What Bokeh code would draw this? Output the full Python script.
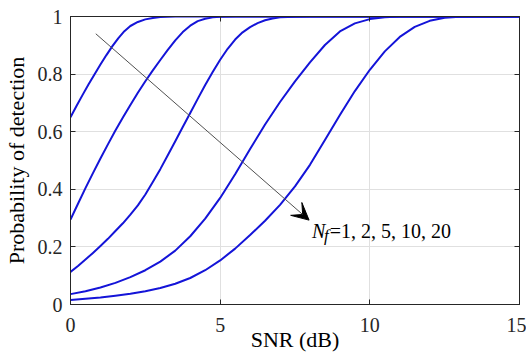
from bokeh.plotting import figure
from bokeh.models import Range1d, FixedTicker, LinearAxis, Label, Arrow, VeeHead
from bokeh.embed import file_html
from bokeh.resources import INLINE

# ---- data ----
snr_1 = [0, 0.2, 0.4, 0.6, 0.8, 1.0, 1.2, 1.4, 1.6, 1.8, 2.0, 2.25, 2.5, 2.75, 3.0, 3.5, 15]
pd_1 = [0.650, 0.689, 0.727, 0.764, 0.799, 0.833, 0.866, 0.897, 0.925, 0.949, 0.967, 0.981,
        0.990, 0.995, 0.998, 1.0, 1.0]

snr_2 = [0, 0.25, 0.5, 0.75, 1.0, 1.25, 1.5, 1.75, 2.0, 2.25, 2.5, 2.75, 3.0, 3.25, 3.5, 3.75,
         4.0, 4.25, 4.5, 4.75, 5.0, 5.5, 15]
pd_2 = [0.295, 0.350, 0.404, 0.456, 0.507, 0.556, 0.604, 0.649, 0.693, 0.735, 0.775, 0.813, 0.849,
        0.884, 0.917, 0.946, 0.968, 0.984, 0.992, 0.997, 0.999, 1.0, 1.0]

snr_3 = [0, 0.25, 0.5, 0.75, 1.0, 1.25, 1.5, 1.75, 2.0, 2.25, 2.5, 2.75, 3.0, 3.25, 3.5, 3.75,
         4.0, 4.25, 4.5, 4.75, 5.0, 5.25, 5.5, 5.75, 6.0, 6.25, 6.5, 6.75, 7.0, 7.5, 8, 15]
pd_3 = [0.113, 0.134, 0.156, 0.179, 0.203, 0.228, 0.255, 0.282, 0.312, 0.344, 0.382, 0.425, 0.470,
        0.518, 0.567, 0.616, 0.665, 0.714, 0.762, 0.807, 0.850, 0.888, 0.920, 0.945, 0.963, 0.977,
        0.987, 0.993, 0.997, 0.9995, 1.0, 1.0]

snr_4 = [0, 0.5, 1.0, 1.5, 2.0, 2.5, 3.0, 3.5, 4.0, 4.5, 5.0, 5.5, 6.0, 6.5, 7.0, 7.5, 8.0, 8.5,
         9.0, 9.5, 10.0, 10.5, 11, 15]
pd_4 = [0.036, 0.046, 0.059, 0.075, 0.095, 0.119, 0.149, 0.187, 0.237, 0.298, 0.370, 0.452, 0.540,
        0.625, 0.703, 0.775, 0.841, 0.901, 0.948, 0.976, 0.991, 0.997, 1.0, 1.0]

snr_5 = [0, 0.5, 1.0, 1.5, 2.0, 2.5, 3.0, 3.5, 4.0, 4.5, 5.0, 5.5, 6.0, 6.5, 7.0, 7.5, 8.0, 8.5,
         9.0, 9.5, 10.0, 10.5, 11.0, 11.5, 12.0, 12.5, 13.0, 13.5, 15]
pd_5 = [0.016, 0.020, 0.024, 0.030, 0.037, 0.046, 0.057, 0.072, 0.092, 0.119, 0.153, 0.194, 0.241,
        0.291, 0.346, 0.410, 0.485, 0.571, 0.658, 0.741, 0.815, 0.879, 0.929, 0.964, 0.985, 0.996,
        0.9995, 1.0, 1.0]

x_ticks = [0, 5, 10, 15]
y_ticks = [0, 0.2, 0.4, 0.6, 0.8, 1]
y_tick_labels = ["0", "0.2", "0.4", "0.6", "0.8", "1"]

x_label = "SNR (dB)"
y_label = "Probability of detection"
note_n = "N"
note_f = "f"
note_rest = "=1, 2, 5, 10, 20"

# arrow endpoints (data units)
arrow_start = (0.845, 0.94)
arrow_end = (7.97, 0.293)

FONT = "Liberation Serif"
AX = "#262626"

p = figure(width=526, height=354, output_backend="svg", toolbar_location=None,
           x_range=Range1d(0, 15), y_range=Range1d(0, 1),
           min_border_left=69, min_border_right=7, min_border_top=16, min_border_bottom=50,
           background_fill_color="white", border_fill_color="white")

p.outline_line_color = AX
p.outline_line_width = 1

p.xaxis.ticker = FixedTicker(ticks=x_ticks)
p.yaxis.ticker = FixedTicker(ticks=y_ticks)
p.yaxis.major_label_overrides = {t: l for t, l in zip(y_ticks, y_tick_labels)}

for ax in (p.xaxis[0], p.yaxis[0]):
    ax.major_tick_in = 5
    ax.major_tick_out = 0
    ax.minor_tick_in = 0
    ax.minor_tick_out = 0
    ax.axis_line_color = AX
    ax.major_tick_line_color = AX
    ax.major_label_text_font = FONT
    ax.major_label_text_font_size = "20px"
    ax.major_label_text_color = AX
    ax.axis_label_text_font = FONT
    ax.axis_label_text_font_style = "normal"
    ax.axis_label_text_color = "black"

p.xaxis.major_label_standoff = 13
p.yaxis.major_label_standoff = 8
p.xaxis.axis_label = x_label
p.xaxis.axis_label_text_font_size = "22px"
p.xaxis.axis_label_standoff = -8
p.yaxis.axis_label = y_label
p.yaxis.axis_label_text_font_size = "22px"
p.yaxis.axis_label_standoff = 6

for side, tick in (("right", y_ticks), ("above", x_ticks)):
    ax = LinearAxis(ticker=FixedTicker(ticks=tick), major_tick_in=5, major_tick_out=0,
                    minor_tick_in=0, minor_tick_out=0,
                    major_label_overrides={t: "" for t in tick},
                    major_label_standoff=0, axis_line_color=AX, major_tick_line_color=AX)
    p.add_layout(ax, side)

p.xgrid.ticker = FixedTicker(ticks=x_ticks)
p.ygrid.ticker = FixedTicker(ticks=y_ticks)
p.grid.grid_line_color = "#e0e0e0"
p.grid.grid_line_width = 1

BLUE = "#1414d8"
for xs, ys in ((snr_1, pd_1), (snr_2, pd_2), (snr_3, pd_3), (snr_4, pd_4), (snr_5, pd_5)):
    p.line(xs, ys, line_color=BLUE, line_width=2, line_join="round")

p.add_layout(Arrow(end=VeeHead(size=17, fill_color="black", line_color="black"),
                   x_start=arrow_start[0], y_start=arrow_start[1],
                   x_end=arrow_end[0], y_end=arrow_end[1],
                   line_color="#505050", line_width=1))

p.add_layout(Label(x=8.067, y=0.2535, text=note_n, text_font=FONT, text_font_style="italic",
                   text_font_size="20px", text_color="black", text_baseline="alphabetic"))
p.add_layout(Label(x=8.47, y=0.238, text=note_f, text_font=FONT, text_font_style="italic",
                   text_font_size="17px", text_color="black", text_baseline="alphabetic"))
p.add_layout(Label(x=8.66, y=0.2535, text=note_rest, text_font=FONT,
                   text_font_size="20px", text_color="black", text_baseline="alphabetic"))

open("out.html", "w").write(file_html(p, INLINE))
